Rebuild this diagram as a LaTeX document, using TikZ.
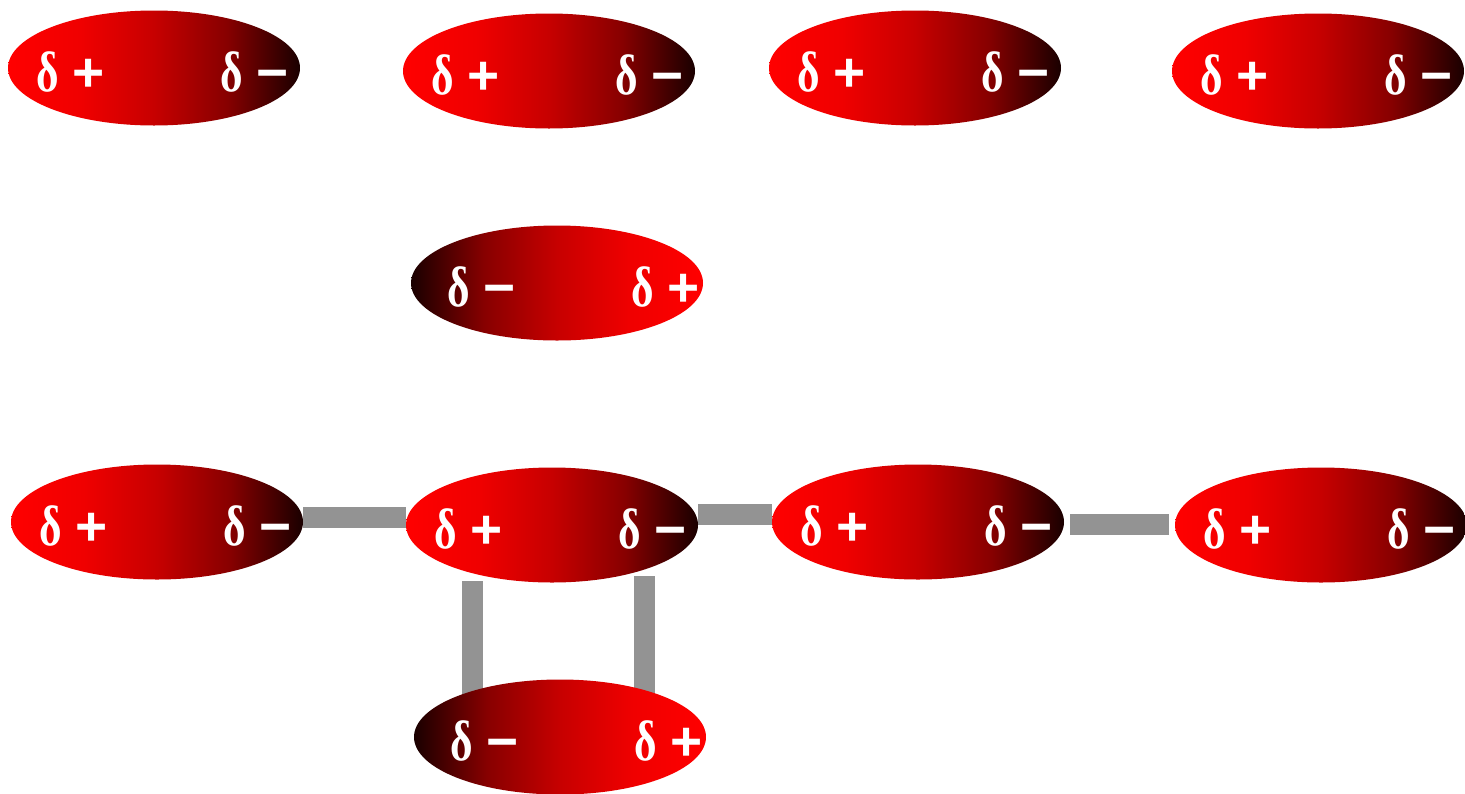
\documentclass[tikz,border=0pt]{standalone}
\usepackage{fontspec}
\usepackage{graphicx}
\newfontfamily\dfont{Liberation Serif}
\newfontfamily\sfont{Liberation Sans}
\usetikzlibrary{shapes.geometric,backgrounds,calc}
\definecolor{barg}{RGB}{147,147,147}
\pgfdeclarehorizontalshading{dipsh}{100bp}{color(0bp)=(red); color(25bp)=(red);
  color(37.5bp)=(red!94!black); color(50bp)=(red!78!black);
  color(62.5bp)=(red!53!black); color(75bp)=(red!10!black); color(100bp)=(red!10!black)}
\tikzset{
  dip/.style={ellipse, minimum width=292pt, minimum height=115pt, inner sep=0pt,
    shading=dipsh},
  pid/.style={ellipse, minimum width=292pt, minimum height=115pt, inner sep=0pt,
    shading=dipsh, shading angle=180},
  chg/.style={text=white, anchor=base west, inner sep=0pt, outer sep=0pt},
  bar/.style={draw=barg, line width=21pt, line cap=butt},
}
\newcommand{\dlt}{\scalebox{0.76}[1]{\fontsize{57}{57}\selectfont\dfont\bfseries δ}}
\newcommand{\chplus}{\dlt\kern14pt{\fontsize{55}{55}\selectfont\sfont\bfseries +}}
\newcommand{\chminus}{\dlt\kern14pt{\fontsize{55}{55}\selectfont\sfont\bfseries −}}
\newcommand{\molR}[3]{%
  \node[dip] (#1) at (#2,#3) {};
  \node[chg] (#1p) at ($(#1)+(-118,23)$) {\chplus};
  \node[chg] (#1m) at ($(#1)+(66,23)$) {\chminus};}
\newcommand{\molL}[3]{%
  \node[pid] (#1) at (#2,#3) {};
  \node[chg] (#1m) at ($(#1)+(-110,23)$) {\chminus};
  \node[chg] (#1p) at ($(#1)+(74,23)$) {\chplus};}
\begin{document}
\begin{tikzpicture}[x=1pt,y=-1pt]
\useasboundingbox (0,0) rectangle (1465,793);
\molR{e1}{154}{68}
\molR{e2}{549}{71}
\molR{e3}{915}{68}
\molR{e4}{1318}{71}
\molL{e5}{557}{283}
\molR{e6}{157}{522}
\molR{e7}{552}{525}
\molR{e8}{918}{522}
\molR{e9}{1321}{525}
\molL{e10}{560}{737}
\coordinate (b3a) at (1070,524);
\coordinate (b3b) at (1169,524);
\coordinate (v1a) at (472,581);
\coordinate (v1b) at (472,705);
\coordinate (v2a) at (644,576);
\coordinate (v2b) at (644,700);
\begin{scope}[on background layer]
  \draw[bar] (e6.east |- 0,517.5) -- (e7.west |- 0,517.5);
  \draw[bar] (e7.east |- 0,514.5) -- (e8.west |- 0,514.5);
  \draw[bar] (b3a) -- (b3b);
  \draw[bar] (v1a) -- (v1b);
  \draw[bar] (v2a) -- (v2b);
\end{scope}
\end{tikzpicture}
\end{document}
